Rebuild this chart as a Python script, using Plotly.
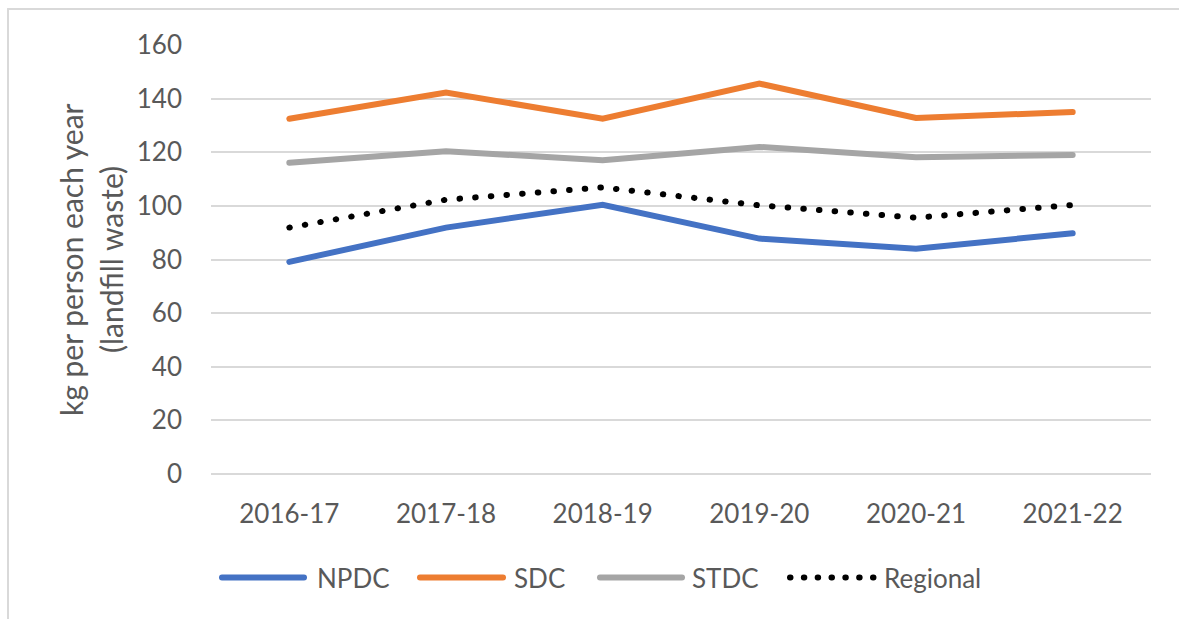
import plotly.graph_objects as go

categories = ["2016-17", "2017-18", "2018-19", "2019-20", "2020-21", "2021-22"]
npdc = [79.1, 91.9, 100.4, 87.8, 84.0, 89.8]
sdc = [132.5, 142.3, 132.5, 145.6, 132.8, 135.0]
stdc = [116.1, 120.4, 117.0, 122.0, 118.1, 119.0]
regional = [91.9, 102.3, 106.9, 100.2, 95.6, 100.3]
y_ticks = [0, 20, 40, 60, 80, 100, 120, 140, 160]
series_names = ["NPDC", "SDC", "STDC", "Regional"]
y_title_lines = ["kg per person each year", "(landfill waste)"]

BLUE = "#4472C4"
ORANGE = "#ED7D31"
GRAY = "#A5A5A5"
BLACK = "#000000"
TEXT = "#595959"
GRID = "#D9D9D9"
FONT = "Lato"
FS = 26

W, H = 1179, 619
L, R, T, B = 211, 28, 45, 145
PW = W - L - R
PH = H - T - B


def px_x(p):
    return (p - L) / PW


def px_y(p):
    return (H - B - p) / PH


fig = go.Figure()
series = [(npdc, BLUE, "solid"), (sdc, ORANGE, "solid"), (stdc, GRAY, "solid"),
          (regional, BLACK, "0.5px,15.2px")]
for (vals, col, dash), name in zip(series, series_names):
    fig.add_trace(go.Scatter(x=categories, y=vals, mode="lines", name=name,
                             line=dict(color=col, width=6, dash=dash),
                             showlegend=False, hoverinfo="x+y+name"))

shapes = []
# chart border (top and left)
shapes.append(dict(type="line", xref="paper", yref="paper", x0=px_x(8), x1=px_x(W + 5),
                   y0=px_y(9), y1=px_y(9), line=dict(color=GRID, width=2)))
shapes.append(dict(type="line", xref="paper", yref="paper", x0=px_x(8), x1=px_x(8),
                   y0=px_y(9), y1=px_y(H + 5), line=dict(color=GRID, width=2)))

# custom legend
leg_y = px_y(577.5)
legend_items = [
    (222, 304, 315, BLUE, "solid"),
    (420, 503, 512, ORANGE, "solid"),
    (600, 682, 690, GRAY, "solid"),
    (790, 874, 882, BLACK, "0.5px,13.33px"),
]
annotations = []
for (x0, x1, tx, col, dash), name in zip(legend_items, series_names):
    shapes.append(dict(type="line", xref="paper", yref="paper", x0=px_x(x0), x1=px_x(x1),
                       y0=leg_y, y1=leg_y, line=dict(color=col, width=6, dash=dash)))
    annotations.append(dict(text=name, xref="paper", yref="paper", x=px_x(tx), y=leg_y,
                            xanchor="left", yanchor="middle", showarrow=False,
                            font=dict(family=FONT, size=FS, color=TEXT)))

for line_text, cx in zip(y_title_lines, [71, 111]):
    annotations.append(dict(text=line_text, xref="paper", yref="paper", x=px_x(cx),
                            y=px_y(260), xanchor="center", yanchor="middle", textangle=-90,
                            showarrow=False, font=dict(family=FONT, size=30, color=TEXT)))

fig.update_layout(
    width=W, height=H,
    margin=dict(l=L, r=R, t=T, b=B, pad=0),
    paper_bgcolor="white", plot_bgcolor="white",
    font=dict(family=FONT, size=FS, color=TEXT),
    showlegend=False,
    shapes=shapes,
    annotations=annotations,
    xaxis=dict(type="category", range=[-0.5, 5.5], showgrid=False, showline=False,
               zeroline=False, ticks="", ticklabelstandoff=22,
               tickfont=dict(family=FONT, size=FS, color=TEXT)),
    yaxis=dict(range=[0, 160], tickvals=y_ticks, showgrid=True, gridcolor=GRID, gridwidth=1.5,
               zeroline=True, zerolinecolor=GRID, zerolinewidth=1.5, showline=False,
               ticks="", ticklabelstandoff=28,
               tickfont=dict(family=FONT, size=FS, color=TEXT)),
)

post = ("var s=document.createElement('style');"
        "s.textContent='body{margin:0;overflow:hidden} path.js-line, .shapelayer path"
        "{stroke-linecap:round !important}';"
        "document.head.appendChild(s);")
fig.write_html("out.html", post_script=post, config={"displayModeBar": False})
